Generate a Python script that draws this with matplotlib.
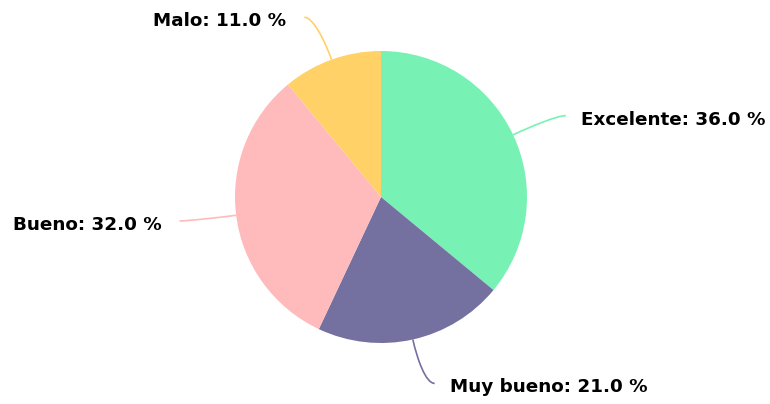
import os
import matplotlib
matplotlib.use("Agg")
import matplotlib.pyplot as plt
from matplotlib.path import Path
from matplotlib.font_manager import FontProperties
import matplotlib.patches as patches
import numpy as np

# data
labels = ["Excelente", "Muy bueno", "Bueno", "Malo"]
values = [36.0, 21.0, 32.0, 11.0]
colors = ["#77F2B4", "#7470A0", "#FFBBBB", "#FFD166"]

W, H = 770, 404
cx, cy = 381, H - 197
radius = 146

bold = FontProperties(fname=os.path.join(matplotlib.get_data_path(), "fonts", "ttf", "DejaVuSans-Bold.ttf"),
                      size=13.2)

fig = plt.figure(figsize=(W / 100, H / 100), dpi=100)
ax = fig.add_axes([0, 0, 1, 1])
wedges, _ = ax.pie(values, colors=colors, startangle=90, counterclock=False,
                   center=(cx, cy), radius=radius, frame=True,
                   wedgeprops=dict(linewidth=0))
ax.set_xlim(0, W)
ax.set_ylim(0, H)
ax.set_aspect("equal")
ax.axis("off")

for w, lab, val, col in zip(wedges, labels, values, colors):
    ang = np.deg2rad((w.theta1 + w.theta2) / 2)
    d = np.array([np.cos(ang), np.sin(ang)])
    side = 1 if d[0] >= 0 else -1
    start = np.array([cx, cy]) + radius * d
    end = np.array([cx, cy]) + (radius + 45) * d + np.array([side * 12, 0])
    p1 = start + 20 * d
    p2 = end - np.array([side * 9, 0])
    path = Path([start, p1, p2, end], [Path.MOVETO, Path.CURVE4, Path.CURVE4, Path.CURVE4])
    ax.add_patch(patches.PathPatch(path, facecolor="none", edgecolor=col, lw=1.2))
    gap = 15 if side > 0 else 18
    ax.text(end[0] + side * gap, end[1] - 4, f"{lab}: {val:.1f} %",
            ha="left" if side > 0 else "right", va="center",
            fontproperties=bold, color="black")

fig.savefig("out.png", dpi=100)
